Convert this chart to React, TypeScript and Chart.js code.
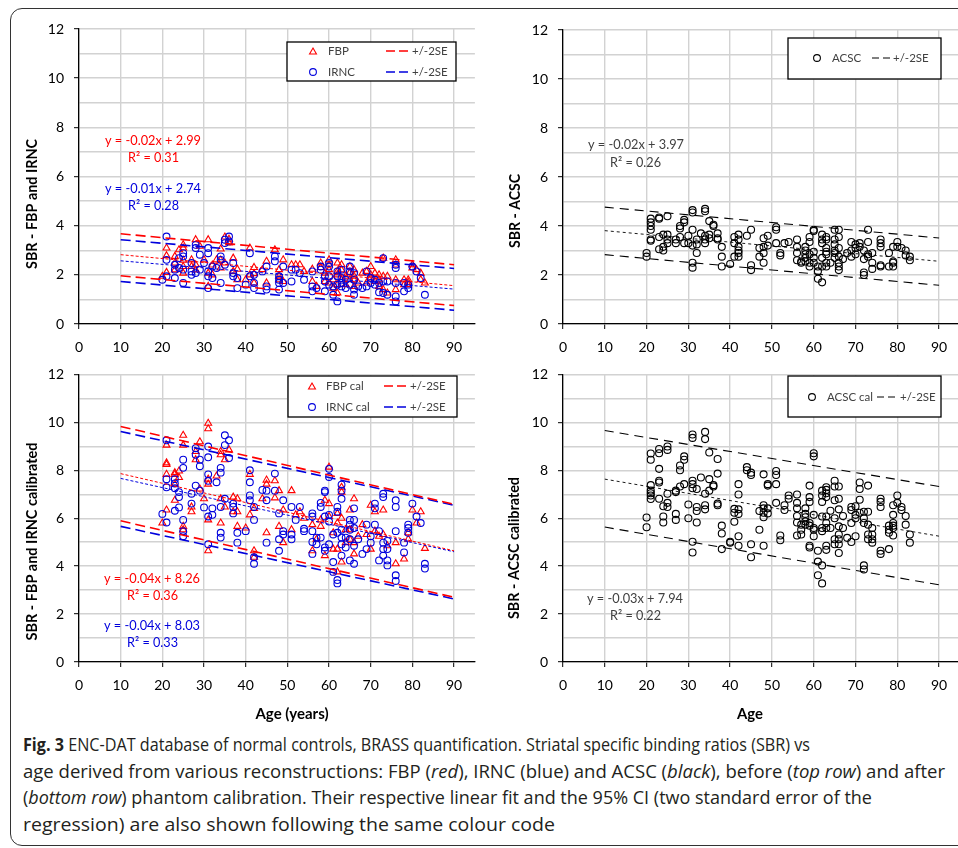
import React, { useEffect, useLayoutEffect, useRef } from 'react';
import { Chart, registerables } from 'chart.js';
Chart.register(...registerables);

// ---------------- data ----------------
const X_TICKS = [0, 10, 20, 30, 40, 50, 60, 70, 80, 90];
const Y_TICKS = [0, 1, 2, 3, 4, 5, 6, 7, 8, 9, 10, 11, 12];
const FIT_X = [10, 90];

// [age, SBR values at that age]
const FBP: [number, number[]][] = [
  [20, [1.94]], [21, [3.09, 2.78, 2.1]], [23, [2.75, 2.48, 2.2]], [24, [3.02]], [25, [3.22, 3.09, 2.6, 2.34, 2.07]],
  [27, [2.61, 2.34]], [28, [3.43, 2.41, 2.2]], [29, [3.16]], [30, [2.61]], [31, [3.43, 2.07, 1.53]], [32, [2.4, 2.0]],
  [33, [2.61]], [34, [3.05, 2.6, 2.28]], [35, [3.54, 2.48]], [36, [3.45, 3.3]], [37, [2.68, 2.14]], [38, [2.23, 1.8]],
  [40, [1.8]], [41, [3.09, 2.0]], [42, [2.3, 2.05, 1.67]], [44, [2.21]], [45, [2.55, 1.67]], [47, [3.02]],
  [48, [2.21, 1.94, 1.8]], [49, [2.61, 1.73]], [51, [2.41]], [52, [2.41]], [53, [2.41]], [54, [2.14]],
  [56, [2.23, 1.73]], [57, [1.53]], [58, [2.48, 2.3]], [59, [2.07, 1.73]], [60, [2.61, 2.4, 2.21, 1.67]],
  [61, [1.8, 1.46]], [62, [2.48, 2.14, 2.0, 1.6, 1.26]], [63, [2.41, 2.2, 1.8]], [64, [1.94, 1.6]],
  [65, [2.34, 2.1, 1.8]], [66, [2.21, 1.94, 1.8, 1.53]], [67, [1.67]], [68, [2.07]], [69, [2.14, 1.67]],
  [70, [2.34, 2.0, 1.87]], [71, [2.07, 1.73]], [72, [2.0, 1.8, 1.53]], [73, [2.68, 1.94, 1.4]], [74, [1.94, 1.26]],
  [76, [2.61, 2.4, 1.8, 1.4]], [78, [1.8, 1.6]], [79, [1.8, 1.7, 1.6]], [80, [2.41, 2.28]], [81, [2.21]],
  [82, [2.07, 1.8]], [83, [1.67]],
];
const IRNC: [number, number[]][] = [
  [20, [1.8]], [21, [3.56, 2.61, 1.94]], [23, [2.41, 2.21, 1.87]], [24, [2.68, 2.28]], [25, [2.88, 2.75, 2.21, 1.67]],
  [27, [2.48, 2.14, 2.0]], [28, [3.22, 3.09, 2.07]], [29, [2.82, 2.21]], [30, [2.48]], [31, [3.09, 2.88, 2.14, 1.94, 1.46]],
  [32, [2.34, 1.87]], [33, [2.28]], [34, [2.75, 2.61, 1.67]], [35, [3.43, 3.29, 2.41]], [36, [3.56, 3.36]],
  [37, [2.48, 2.07, 1.94]], [38, [1.87, 1.46]], [40, [1.6]], [41, [2.88, 1.94]], [42, [2.0, 1.67, 1.46]], [44, [2.14]],
  [45, [2.34, 1.53, 1.4]], [47, [2.75, 2.55]], [48, [1.94, 1.8, 1.67, 1.4]], [49, [2.34, 1.67]], [51, [2.21, 1.73]],
  [52, [2.21]], [53, [2.07]], [54, [1.8]], [56, [2.14, 1.53, 1.33]], [57, [1.46]], [58, [2.34, 2.21]],
  [59, [1.94, 1.73, 1.33]], [60, [2.48, 2.34, 1.94, 1.6]], [61, [1.53, 1.19]], [62, [2.14, 1.94, 1.6, 0.92]],
  [63, [2.21, 1.87, 1.67, 1.53]], [64, [1.8, 1.46]], [65, [2.34, 2.14, 1.6]], [66, [2.07, 1.8, 1.4, 1.19]],
  [67, [1.53]], [68, [1.46]], [69, [2.14, 1.53]], [70, [1.87, 1.67]], [71, [1.8, 1.6]], [72, [1.67, 1.29]],
  [73, [2.68, 1.73, 1.26]], [74, [1.73, 1.19]], [76, [2.41, 2.28, 1.67, 1.12, 0.92]], [78, [1.67, 1.33]],
  [79, [1.6, 1.46]], [80, [2.34]], [81, [2.14]], [82, [1.87]], [83, [1.19]],
];
const ACSC: [number, number[]][] = [
  [20, [2.9, 2.75]], [21, [4.3, 4.15, 4.0, 3.85, 3.45, 3.4]], [23, [4.35, 4.3, 3.55, 3.05]], [24, [3.65, 3.15, 3.0]],
  [25, [4.4, 3.65, 3.45, 3.3]], [27, [3.45, 3.3]], [28, [4.0, 3.9, 3.55]], [29, [4.25, 4.15, 3.3]], [30, [3.6, 3.3]],
  [31, [4.65, 4.55, 3.85, 3.2, 2.5, 2.3]], [32, [3.45, 3.25, 2.9]], [33, [3.7]], [34, [4.7, 4.6, 3.6, 3.45, 3.3]],
  [35, [4.2, 3.65, 3.5]], [36, [4.05, 4.0]], [37, [3.7, 3.5, 3.45]], [38, [3.15, 2.75, 2.35]], [40, [2.45]],
  [41, [3.55, 3.3, 2.75]], [42, [3.65, 3.45, 3.15, 3.0, 2.9, 2.75]], [44, [3.6]], [45, [3.85, 2.4, 2.2]],
  [47, [3.1, 2.75]], [48, [3.5, 3.15, 2.9, 2.5]], [49, [3.6, 3.2]], [51, [3.95, 3.85, 3.3]], [52, [2.9, 2.8]],
  [53, [3.3]], [54, [3.35]], [56, [3.45, 3.15, 2.9, 2.6]], [57, [2.55, 2.5]], [58, [3.15, 3.0, 2.85, 2.7, 2.55]],
  [59, [3.55, 3.35, 2.85, 2.5, 2.35]], [60, [3.85, 3.8, 2.95, 2.7, 2.5]], [61, [2.35, 2.15, 1.85]],
  [62, [3.65, 3.45, 3.3, 2.7, 2.35, 1.7]], [63, [3.55, 3.45, 3.1, 2.95, 2.85, 2.5, 2.35]], [64, [2.5]],
  [65, [3.85, 3.45, 3.25, 3.0, 2.9, 2.7]], [66, [3.85, 3.55, 3.1, 2.75, 2.5, 2.35, 2.2]], [67, [2.65]], [68, [2.9]],
  [69, [3.35, 3.0, 2.75]], [70, [3.25, 3.1, 2.85]], [71, [3.3, 3.15]], [72, [3.0, 2.65, 2.1, 2.0]],
  [73, [3.85, 3.35, 2.85, 2.75]], [74, [2.9, 2.5, 2.25]], [76, [3.45, 3.3, 3.15, 2.4, 2.35]], [78, [2.9, 2.35]],
  [79, [3.15, 2.55, 2.5, 2.35]], [80, [3.35, 3.15]], [81, [3.1]], [82, [3.0, 2.8]], [83, [2.75, 2.6]],
];
const FBP_CAL: [number, number[]][] = [
  [20, [5.8]], [21, [9.05, 8.31, 8.24, 7.83, 6.34]], [23, [7.9, 7.83, 7.42, 6.75]], [24, [7.97, 7.7]],
  [25, [9.46, 9.05, 5.66, 5.52]], [27, [6.47, 6.27]], [28, [8.78, 8.44]], [29, [9.19, 7.22]], [30, [6.81]],
  [31, [9.96, 9.73, 7.63, 7.42, 5.93, 4.64]], [33, [7.76]], [34, [8.78, 8.65, 6.81, 5.8]], [35, [8.44, 6.47]],
  [36, [8.85]], [37, [6.88, 6.27]], [38, [6.81, 6.27, 5.66]], [40, [5.59]], [41, [7.83, 6.14]], [42, [6.41, 4.64, 4.37]],
  [44, [6.81]], [45, [7.59, 7.42, 5.39]], [47, [7.56, 6.85]], [48, [7.15, 5.66]], [49, [6.34, 4.98]], [51, [7.15, 5.52]],
  [52, [6.14]], [53, [6.27]], [54, [6.0]], [56, [5.73, 4.64]], [57, [5.12]], [58, [5.93, 5.66]], [59, [6.75, 4.44]],
  [60, [8.13, 6.61, 6.07]], [61, [5.39, 4.71]], [62, [6.2, 5.8, 4.71, 3.76]], [63, [7.29, 7.09, 6.0, 4.17]],
  [64, [5.52, 4.98]], [65, [6.34, 5.52, 5.12]], [66, [6.81, 4.98, 4.51]], [67, [5.25]], [68, [5.73]], [69, [5.32]],
  [70, [6.54, 4.71]], [71, [6.27, 5.46]], [72, [5.25]], [73, [6.34, 5.32]], [74, [4.85]], [76, [4.98, 4.1]],
  [78, [4.3]], [79, [5.39, 5.12]], [80, [6.34]], [81, [5.8]], [82, [6.27]], [83, [4.74]],
];
const IRNC_CAL: [number, number[]][] = [
  [20, [6.18]], [21, [9.25, 7.63, 7.29, 5.82]], [23, [7.63, 7.45, 7.25, 6.31]], [24, [7.09, 6.88, 6.45]],
  [25, [8.44, 8.1, 5.93, 5.46, 5.25]], [27, [7.02, 6.61]], [28, [8.92, 8.65, 7.36]], [29, [8.44, 8.17, 7.15]],
  [30, [6.45]], [31, [8.99, 8.54, 7.83, 7.56, 6.07, 4.91]], [32, [6.41, 6.14]], [33, [7.5]],
  [34, [8.1, 7.9, 6.47, 5.39, 5.19]], [35, [9.46, 9.05, 6.81]], [36, [9.25, 8.51]], [37, [6.61, 6.47, 6.2]],
  [38, [5.39, 4.98]], [40, [5.46]], [41, [8.0, 7.5, 6.95, 6.75]], [42, [6.47, 5.93, 4.37, 4.1]], [44, [7.18]],
  [45, [7.15, 6.75, 4.98]], [47, [7.86, 7.15]], [48, [6.2, 5.12, 4.64]], [49, [6.75, 5.46, 5.32]],
  [51, [6.47, 5.32, 5.12]], [52, [5.93]], [53, [6.47]], [54, [5.56, 5.46]], [56, [6.2, 6.07, 5.46, 5.01, 4.51]],
  [57, [5.19, 4.91]], [58, [6.64, 6.47, 5.19]], [59, [7.15, 7.09, 6.07, 4.78, 4.64]], [60, [8.06, 7.72, 6.14, 5.86, 4.91]],
  [61, [5.32, 4.17, 3.76]], [62, [6.47, 6.27, 5.39, 3.42, 3.28]], [63, [7.4, 7.15, 6.81, 5.52, 5.19, 4.91, 4.44]],
  [64, [5.19, 4.78]], [65, [5.93, 5.73, 5.52, 5.12, 4.24]], [66, [6.41, 5.93, 5.59, 4.85, 4.1]], [67, [5.12]],
  [68, [4.51]], [69, [5.73, 4.71]], [70, [5.25, 4.98]], [71, [6.61, 6.41, 5.73]], [72, [5.46, 4.24]],
  [73, [7.02, 6.88, 4.98, 4.71, 4.44]], [74, [5.05, 4.71, 4.24, 4.03]], [76, [6.75, 6.47, 5.46, 3.62, 3.38]],
  [78, [4.98, 4.57]], [79, [5.73, 5.59, 5.39]], [80, [6.61]], [81, [6.07]], [82, [5.8]], [83, [4.1, 3.9]],
];
const ACSC_CAL: [number, number[]][] = [
  [20, [6.03, 5.62]], [21, [8.7, 8.44, 7.38, 7.15, 7.04, 6.95, 6.8]], [23, [8.89, 8.71, 8.06, 7.56, 7.49, 6.81]],
  [24, [6.5, 6.07, 5.82]], [25, [8.99, 8.85, 7.02, 6.64, 6.47]], [27, [7.15, 7.09, 6.18, 5.93]], [28, [8.2, 8.0, 7.32]],
  [29, [8.58, 8.44, 7.42]], [30, [6.57, 6.0]], [31, [9.49, 9.35, 7.56, 7.42, 7.25, 5.02, 4.57]],
  [32, [7.22, 6.47, 6.3, 5.82]], [33, [7.7]], [34, [9.6, 9.3, 7.02, 6.54, 6.37]], [35, [8.74, 7.63, 7.15]],
  [36, [7.38, 7.32]], [37, [8.47, 7.86, 6.61, 6.54]], [38, [5.69, 5.36, 4.71]], [40, [5.02, 4.98]],
  [41, [6.39, 6.23, 5.85]], [42, [7.42, 6.99, 6.37, 6.18, 5.25, 4.85]], [44, [8.13, 8.0]], [45, [7.9, 7.8, 4.91, 4.37]],
  [47, [6.3, 5.52]], [48, [7.83, 6.54, 6.41, 6.23, 6.04, 4.85]], [49, [7.42, 7.36, 6.41, 6.2]],
  [51, [7.97, 7.8, 7.42, 6.64]], [52, [5.28, 5.08]], [53, [6.54, 6.34]], [54, [6.95, 6.81]],
  [56, [6.99, 6.64, 6.41, 6.09, 5.82, 5.28]], [57, [5.73, 5.52, 5.32]], [58, [6.41, 6.18, 6.04, 5.86, 5.73]],
  [59, [7.36, 6.88, 6.68, 5.8, 5.69, 4.85, 4.78]], [60, [8.71, 8.58, 6.14, 5.59, 5.52, 5.25]], [61, [4.64, 4.19, 3.62]],
  [62, [7.15, 6.95, 6.68, 6.07, 5.59, 5.46, 4.03, 3.28]], [63, [7.29, 7.18, 7.04, 6.88, 6.07, 5.8, 5.59, 4.85, 4.68]],
  [64, [6.31, 5.59]], [65, [7.56, 7.32, 6.75, 6.0, 5.12, 4.91]], [66, [7.32, 6.81, 6.37, 5.66, 5.32, 5.12, 4.91, 4.55]],
  [67, [6.09, 5.59]], [68, [5.18]], [69, [6.47, 6.34, 5.8, 5.01]], [70, [6.5, 6.14, 6.0, 5.25]],
  [71, [7.49, 7.22, 6.77, 6.23]], [72, [6.27, 6.0, 5.8, 4.03, 3.86]], [73, [7.36, 6.27, 5.73, 5.32, 5.12]],
  [74, [5.59, 5.32, 5.12, 4.98]], [76, [6.81, 6.68, 6.47, 4.64, 4.51]], [78, [5.69, 5.52, 5.39, 4.71]],
  [79, [6.54, 6.14, 5.8, 5.69, 5.59, 5.28]], [80, [6.95, 6.64]], [81, [6.47, 6.34]], [82, [6.09, 5.73]], [83, [5.32, 4.98]],
];

// regression line and +/-2SE bands, values at FIT_X
const FBP_FIT = [2.82, 1.56];
const FBP_UPPER = [3.67, 2.41];
const FBP_LOWER = [1.96, 0.75];
const IRNC_FIT = [2.57, 1.42];
const IRNC_UPPER = [3.43, 2.26];
const IRNC_LOWER = [1.73, 0.56];
const ACSC_FIT = [3.81, 2.56];
const ACSC_UPPER = [4.77, 3.51];
const ACSC_LOWER = [2.83, 1.58];
const FBP_CAL_FIT = [7.86, 4.64];
const FBP_CAL_UPPER = [9.83, 6.58];
const FBP_CAL_LOWER = [5.89, 2.7];
const IRNC_CAL_FIT = [7.66, 4.6];
const IRNC_CAL_UPPER = [9.62, 6.54];
const IRNC_CAL_LOWER = [5.66, 2.63];
const ACSC_CAL_FIT = [7.63, 5.25];
const ACSC_CAL_UPPER = [9.66, 7.32];
const ACSC_CAL_LOWER = [5.63, 3.22];

// ---------------- styling ----------------
const RED = '#ff0000';
const BLUE = '#0000dd';
const BLACK = '#000000';
const GREY_TXT = '#404040';
const FONT = "Lato, 'Open Sans', sans-serif";

const pts = (g: [number, number[]][]) => g.flatMap(([a, vs]) => vs.map((v) => ({ x: a, y: v })));
const line = (ys: number[]) => FIT_X.map((x, i) => ({ x, y: ys[i] }));

function scatterDs(label: string, g: [number, number[]][], color: string, style: string, r: number, order: number) {
  return {
    label, data: pts(g), showLine: false, pointStyle: style, pointRadius: r, pointBorderWidth: 1.1,
    borderColor: color, backgroundColor: 'rgba(0,0,0,0)', order,
  };
}
function lineDs(ys: number[], color: string, dash: number[], w: number) {
  return {
    label: '', data: line(ys), showLine: true, pointRadius: 0, borderColor: color, borderWidth: w,
    borderDash: dash, fill: false, order: 0,
  };
}

type Txt = { t: string; x: number; y: number; color: string; font: string; maxW?: number; rot?: boolean; align?: CanvasTextAlign };
type LegRow = { y: number; mx: number; kind: 'tri' | 'circle'; color: string; label: string; lx: number; dx1: number; dx2: number; sx: number; dash: number[]; dw: number };
type Spec = {
  left: number; top: number; w: number; h: number; yW: number; xH: number; padTop: number; padRight: number;
  datasets: any[]; texts: Txt[]; box: [number, number, number, number]; rows: LegRow[];
};

function drawMarker(ctx: CanvasRenderingContext2D, kind: string, x: number, y: number, color: string) {
  ctx.save();
  ctx.strokeStyle = color;
  ctx.lineWidth = 1.1;
  ctx.beginPath();
  if (kind === 'tri') {
    const r = 4;
    for (let i = 0; i < 3; i++) {
      const a = (i * 2 * Math.PI) / 3;
      const px = x + Math.sin(a) * r, py = y - Math.cos(a) * r + 1;
      if (i) ctx.lineTo(px, py); else ctx.moveTo(px, py);
    }
    ctx.closePath();
  } else {
    ctx.arc(x, y, 3.4, 0, Math.PI * 2);
  }
  ctx.stroke();
  ctx.restore();
}

const overlay = {
  id: 'overlay',
  afterDraw(chart: any) {
    const spec: Spec = chart.options.plugins.overlay.spec;
    const ctx: CanvasRenderingContext2D = chart.ctx;
    ctx.save();
    const [x1, y1, x2, y2] = spec.box;
    ctx.fillStyle = '#ffffff';
    ctx.fillRect(x1, y1, x2 - x1, y2 - y1);
    ctx.strokeStyle = '#000';
    ctx.lineWidth = 1.3;
    ctx.strokeRect(x1, y1, x2 - x1, y2 - y1);
    ctx.font = `11.5px ${FONT}`;
    ctx.textBaseline = 'middle';
    for (const r of spec.rows) {
      drawMarker(ctx, r.kind, r.mx, r.y, r.color);
      ctx.fillStyle = GREY_TXT;
      ctx.textAlign = 'left';
      ctx.fillText(r.label, r.lx, r.y);
      ctx.save();
      ctx.strokeStyle = r.color;
      ctx.lineWidth = r.dw;
      ctx.setLineDash(r.dash);
      ctx.beginPath();
      ctx.moveTo(r.dx1, r.y);
      ctx.lineTo(r.dx2, r.y);
      ctx.stroke();
      ctx.restore();
      ctx.fillStyle = GREY_TXT;
      ctx.fillText('+/-2SE', r.sx, r.y);
    }
    for (const t of spec.texts) {
      ctx.save();
      ctx.font = t.font;
      ctx.fillStyle = t.color;
      ctx.textBaseline = 'middle';
      ctx.textAlign = t.align || 'left';
      if (t.rot) {
        ctx.translate(t.x, t.y);
        ctx.rotate(-Math.PI / 2);
        ctx.fillText(t.t, 0, 0, t.maxW);
      } else {
        ctx.fillText(t.t, t.x, t.y, t.maxW);
      }
      ctx.restore();
    }
    ctx.restore();
  },
};

function makeConfig(spec: Spec): any {
  const tickFont = { family: FONT, size: 14 };
  return {
    type: 'scatter',
    data: { datasets: spec.datasets },
    plugins: [overlay],
    options: {
      responsive: false,
      animation: false,
      devicePixelRatio: 1,
      layout: { padding: { left: 0, top: spec.padTop, right: spec.padRight, bottom: 0 } },
      plugins: { legend: { display: false }, tooltip: { enabled: false }, overlay: { spec } },
      scales: {
        x: {
          type: 'linear', min: 0, max: 95,
          afterBuildTicks: (s: any) => { s.ticks = X_TICKS.map((v) => ({ value: v })); },
          afterFit: (s: any) => { s.height = spec.xH; },
          grid: { color: '#d2d2d2', lineWidth: 1.4, tickLength: 5, tickColor: '#000', tickWidth: 1 },
          border: { color: '#000', width: 1.3 },
          ticks: { font: tickFont, color: '#000', padding: 10, maxRotation: 0, autoSkip: false },
        },
        y: {
          type: 'linear', min: 0, max: 12,
          afterBuildTicks: (s: any) => { s.ticks = Y_TICKS.map((v) => ({ value: v })); },
          afterFit: (s: any) => { s.width = spec.yW; },
          grid: {
            color: '#d2d2d2', lineWidth: 1.4, tickLength: 5, tickWidth: 1,
            tickColor: (c: any) => (c.tick && c.tick.value % 2 === 0 ? '#000' : 'rgba(0,0,0,0)'),
          },
          border: { color: '#000', width: 1.3 },
          ticks: {
            font: tickFont, color: '#000', padding: 10, autoSkip: false,
            callback: (v: number) => (v % 2 === 0 ? String(v) : ''),
          },
        },
      },
    },
  };
}

const eqFont = `14px ${FONT}`;
const titleFont = `bold 15px ${FONT}`;
const LONG = [10, 5];
const SHORT = [3, 2];

const SPECS: Spec[] = [
  {
    left: 0, top: 0, w: 480, h: 356, yW: 79, xH: 32, padTop: 29, padRight: 3,
    datasets: [
      lineDs(FBP_UPPER, RED, LONG, 1.6), lineDs(FBP_LOWER, RED, LONG, 1.6), lineDs(FBP_FIT, RED, SHORT, 1),
      lineDs(IRNC_UPPER, BLUE, LONG, 1.6), lineDs(IRNC_LOWER, BLUE, LONG, 1.6), lineDs(IRNC_FIT, BLUE, SHORT, 1),
      scatterDs('IRNC', IRNC, BLUE, 'circle', 3.4, 1),
      scatterDs('FBP', FBP, RED, 'triangle', 4, 2),
    ],
    texts: [
      { t: 'SBR - FBP and IRNC', x: 32, y: 204, color: '#000', font: titleFont, rot: true, align: 'center', maxW: 130 },
      { t: 'y = -0.02x + 2.99', x: 105, y: 140, color: RED, font: eqFont, maxW: 96 },
      { t: 'R² = 0.31', x: 128, y: 157, color: RED, font: eqFont, maxW: 51 },
      { t: 'y = -0.01x + 2.74', x: 105, y: 188, color: BLUE, font: eqFont, maxW: 96 },
      { t: 'R² = 0.28', x: 128, y: 205, color: BLUE, font: eqFont, maxW: 51 },
    ],
    box: [287, 42, 456, 81],
    rows: [
      { y: 51, mx: 313, kind: 'tri', color: RED, label: 'FBP', lx: 328, dx1: 386, dx2: 411, sx: 412, dash: [9, 4], dw: 1.6 },
      { y: 72, mx: 313, kind: 'circle', color: BLUE, label: 'IRNC', lx: 328, dx1: 386, dx2: 411, sx: 412, dash: [9, 4], dw: 1.6 },
    ],
  },
  {
    left: 480, top: 0, w: 490, h: 356, yW: 83, xH: 32, padTop: 30, padRight: 10,
    datasets: [
      lineDs(ACSC_UPPER, BLACK, [9, 6], 1.1), lineDs(ACSC_LOWER, BLACK, [9, 6], 1.1), lineDs(ACSC_FIT, BLACK, [3, 3], 0.9),
      scatterDs('ACSC', ACSC, BLACK, 'circle', 3.5, 1),
    ],
    texts: [
      { t: 'SBR - ACSC', x: 35, y: 211, color: '#000', font: titleFont, rot: true, align: 'center', maxW: 74 },
      { t: 'y = -0.02x + 3.97', x: 108, y: 144, color: GREY_TXT, font: eqFont, maxW: 96 },
      { t: 'R² = 0.26', x: 130, y: 162, color: GREY_TXT, font: eqFont, maxW: 51 },
    ],
    box: [308, 38, 461, 79],
    rows: [
      { y: 58, mx: 337, kind: 'circle', color: BLACK, label: 'ACSC', lx: 352, dx1: 392, dx2: 412, sx: 413, dash: [7, 4], dw: 1 },
    ],
  },
  {
    left: 0, top: 356, w: 480, h: 374, yW: 79, xH: 68, padTop: 12, padRight: 3,
    datasets: [
      lineDs(FBP_CAL_UPPER, RED, LONG, 1.6), lineDs(FBP_CAL_LOWER, RED, LONG, 1.6), lineDs(FBP_CAL_FIT, RED, SHORT, 1),
      lineDs(IRNC_CAL_UPPER, BLUE, LONG, 1.6), lineDs(IRNC_CAL_LOWER, BLUE, LONG, 1.6), lineDs(IRNC_CAL_FIT, BLUE, SHORT, 1),
      scatterDs('IRNC cal', IRNC_CAL, BLUE, 'circle', 3.4, 1),
      scatterDs('FBP cal', FBP_CAL, RED, 'triangle', 4, 2),
    ],
    texts: [
      { t: 'SBR - FBP and IRNC calibrated', x: 32, y: 185.5, color: '#000', font: titleFont, rot: true, align: 'center', maxW: 198 },
      { t: 'Age (years)', x: 292, y: 358, color: '#000', font: titleFont, align: 'center', maxW: 74 },
      { t: 'y = -0.04x + 8.26', x: 104, y: 222, color: RED, font: eqFont, maxW: 96 },
      { t: 'R² = 0.36', x: 127, y: 239, color: RED, font: eqFont, maxW: 51 },
      { t: 'y = -0.04x + 8.03', x: 104, y: 269, color: BLUE, font: eqFont, maxW: 96 },
      { t: 'R² = 0.33', x: 127, y: 286, color: BLUE, font: eqFont, maxW: 51 },
    ],
    box: [288, 20, 457, 61],
    rows: [
      { y: 30, mx: 312, kind: 'tri', color: RED, label: 'FBP cal', lx: 326, dx1: 384, dx2: 409, sx: 410, dash: [9, 4], dw: 1.6 },
      { y: 51, mx: 312, kind: 'circle', color: BLUE, label: 'IRNC cal', lx: 326, dx1: 384, dx2: 409, sx: 410, dash: [9, 4], dw: 1.6 },
    ],
  },
  {
    left: 480, top: 356, w: 490, h: 374, yW: 83, xH: 68, padTop: 12, padRight: 10,
    datasets: [
      lineDs(ACSC_CAL_UPPER, BLACK, [9, 6], 1.1), lineDs(ACSC_CAL_LOWER, BLACK, [9, 6], 1.1), lineDs(ACSC_CAL_FIT, BLACK, [3, 3], 0.9),
      scatterDs('ACSC cal', ACSC_CAL, BLACK, 'circle', 3.5, 1),
    ],
    texts: [
      { t: 'SBR - ACSC calibrated', x: 34, y: 192, color: '#000', font: titleFont, rot: true, align: 'center', maxW: 142 },
      { t: 'Age', x: 270, y: 358, color: '#000', font: titleFont, align: 'center', maxW: 26 },
      { t: 'y = -0.03x + 7.94', x: 107, y: 242, color: GREY_TXT, font: eqFont, maxW: 96 },
      { t: 'R² = 0.22', x: 130, y: 259, color: GREY_TXT, font: eqFont, maxW: 51 },
    ],
    box: [308, 20, 461, 61],
    rows: [
      { y: 41, mx: 332, kind: 'circle', color: BLACK, label: 'ACSC cal', lx: 347, dx1: 397, dx2: 419, sx: 420, dash: [7, 4], dw: 1 },
    ],
  },
];

function Panel({ spec }: { spec: Spec }) {
  const ref = useRef<HTMLCanvasElement>(null);
  useEffect(() => {
    const chart = new Chart(ref.current as HTMLCanvasElement, makeConfig(spec));
    return () => chart.destroy();
  }, [spec]);
  return (
    <canvas
      ref={ref}
      width={spec.w}
      height={spec.h}
      style={{ position: 'absolute', left: spec.left, top: spec.top, width: spec.w, height: spec.h }}
    />
  );
}

const CAPTION_TARGETS = [787, 922, 849, 532];

function Caption() {
  const refs = [useRef<HTMLDivElement>(null), useRef<HTMLDivElement>(null), useRef<HTMLDivElement>(null), useRef<HTMLDivElement>(null)];
  const fit = () => {
    refs.forEach((r, i) => {
      const el = r.current;
      if (!el) return;
      el.style.transform = 'none';
      const w = el.getBoundingClientRect().width;
      if (w > 0) el.style.transform = `scaleX(${CAPTION_TARGETS[i] / w})`;
    });
  };
  useLayoutEffect(() => {
    fit();
    if ((document as any).fonts) (document as any).fonts.ready.then(fit);
  }, []);
  const lineStyle = (i: number): React.CSSProperties => ({
    position: 'absolute', left: 23, top: 731 + i * 26.7, whiteSpace: 'nowrap', display: 'inline-block',
    transformOrigin: 'left center', lineHeight: '26px', fontSize: 18,
    fontFamily: "'Liberation Sans Narrow', 'Open Sans', sans-serif", color: '#231f20',
  });
  return (
    <>
      <div ref={refs[0]} style={lineStyle(0)}>
        <b>Fig. 3</b> ENC-DAT database of normal controls, BRASS quantification. Striatal specific binding ratios (SBR) vs
      </div>
      <div ref={refs[1]} style={lineStyle(1)}>
        age derived from various reconstructions: FBP (<i>red</i>), IRNC (blue) and ACSC (<i>black</i>), before (<i>top row</i>) and after
      </div>
      <div ref={refs[2]} style={lineStyle(2)}>
        (<i>bottom row</i>) phantom calibration. Their respective linear fit and the 95% CI (two standard error of the
      </div>
      <div ref={refs[3]} style={lineStyle(3)}>
        regression) are also shown following the same colour code
      </div>
    </>
  );
}

export default function App() {
  return (
    <div style={{ position: 'absolute', left: 0, top: 0, width: 958, height: 848, overflow: 'hidden', background: '#fff' }}>
      <div
        style={{
          position: 'absolute', left: 10, top: 8, width: 1000, height: 838, boxSizing: 'border-box',
          border: '1.5px solid #333', borderRadius: 12,
        }}
      />
      {SPECS.map((s, i) => (
        <Panel key={i} spec={s} />
      ))}
      <Caption />
    </div>
  );
}
